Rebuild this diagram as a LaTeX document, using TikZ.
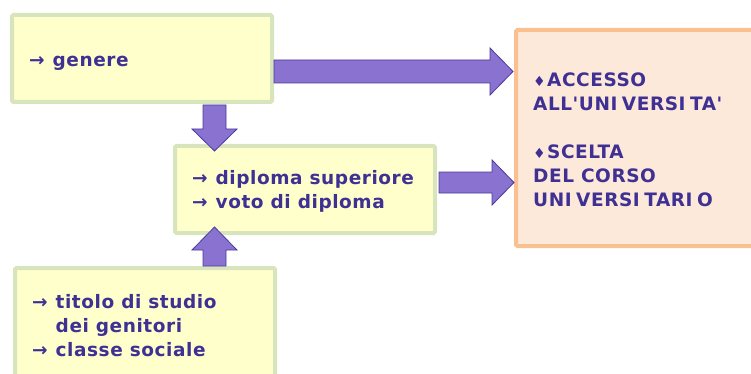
\documentclass[tikz,border=0pt]{standalone}
\usepackage{fontspec}
\newfontfamily\lblfont[LetterSpace=3]{DejaVu Sans}
\definecolor{boxfill}{HTML}{FFFFCC}
\definecolor{boxline}{HTML}{D8E4BC}
\definecolor{orfill}{HTML}{FDE9D9}
\definecolor{orline}{HTML}{FAC090}
\definecolor{arfill}{HTML}{8A73D0}
\definecolor{arline}{HTML}{4A3A9C}
\definecolor{txt}{HTML}{3F3094}
\newcommand{\ar}{\makebox[23.5pt][l]{→}}
\newcommand{\dm}{\makebox[14pt][l]{\fontsize{14}{14}\selectfont ♦}}
\newcommand{\gi}{\kern4.5pt}
\tikzset{
  ybox/.style={draw=boxline, fill=boxfill, line width=4pt, rounded corners=1.5pt},
  obox/.style={draw=orline, fill=orfill, line width=4pt, rounded corners=1.5pt},
  barrow/.style={draw=arline, fill=arfill, line width=0.8pt, line join=miter},
  lbl/.style={text=txt, font=\lblfont\fontsize{18.5}{24}\selectfont\bfseries, align=left, anchor=west, inner sep=0pt},
}
\begin{document}
\begin{tikzpicture}[x=1pt,y=-1pt]
\useasboundingbox (0,0) rectangle (751,374);
\clip (0,0) rectangle (751,374);
% boxes
\draw[ybox] (12,15) rectangle (272,102);
\draw[ybox] (175,146) rectangle (435,233);
\draw[ybox] (15,268) rectangle (275,400);
\draw[obox] (516,30) rectangle (800,246);
% block arrows
\draw[barrow] (274,60) -- (490,60) -- (490,48) -- (513,71.5) -- (490,95) -- (490,83) -- (274,83) -- cycle;
\draw[barrow] (203,105) -- (203,129) -- (192,129) -- (214.5,151) -- (237,129) -- (226,129) -- (226,105) -- cycle;
\draw[barrow] (439,172) -- (492,172) -- (492,160) -- (514,182.5) -- (492,205) -- (492,193) -- (439,193) -- cycle;
\draw[barrow] (203,266) -- (203,250) -- (192,250) -- (214.5,227) -- (237,250) -- (226,250) -- (226,266) -- cycle;
% texts
\node[lbl] (t1) at (29,63) {\ar genere};
\node[lbl] (t2) at (192,191.5) {\ar diploma superiore\\\ar voto di diploma};
\node[lbl] (t3) at (32,325.5) {\ar titolo di studio\\\hspace*{23.5pt}dei genitori\\\ar classe sociale};
\node[lbl] (t4) at (533,140) {\dm ACCESSO\\ALL'UNI\gi VERSI\gi TA'\\[24pt]\dm SCELTA\\DEL CORSO\\UNI\gi VERSI\gi TARI\gi O};
\end{tikzpicture}
\end{document}
